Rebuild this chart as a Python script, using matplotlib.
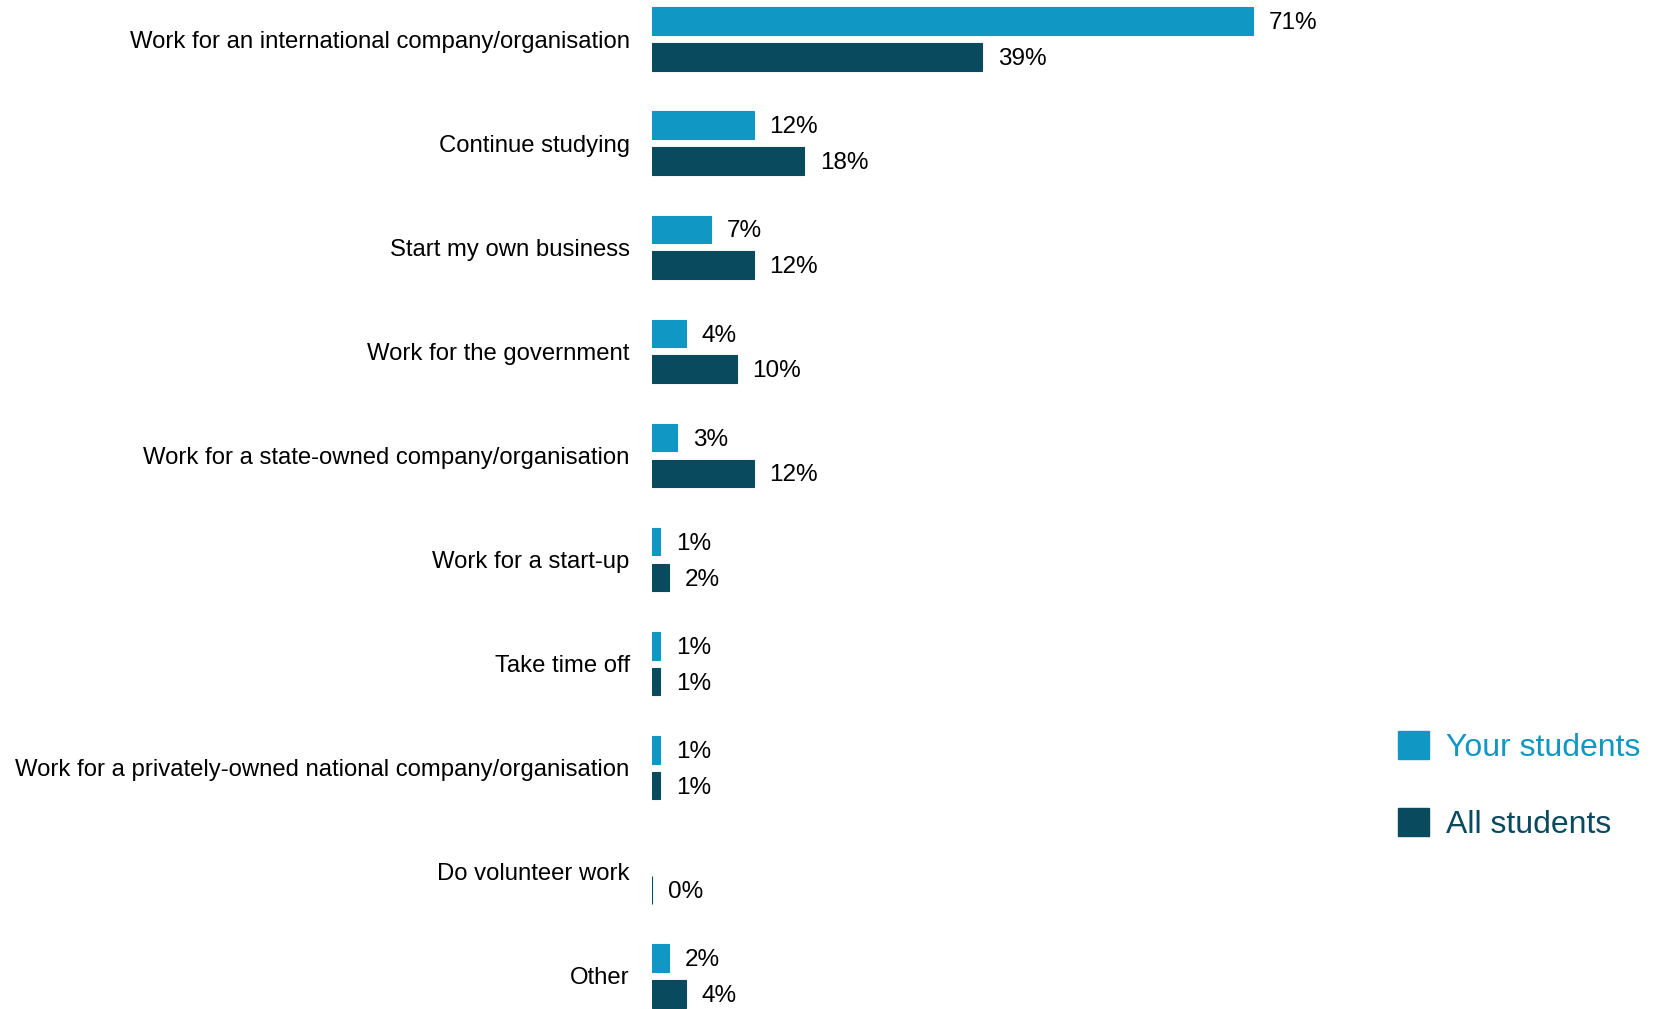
import numpy as np
import matplotlib
matplotlib.use('Agg')
import matplotlib.pyplot as plt
from matplotlib.patches import Patch

plt.rcParams['font.family'] = ['Liberation Sans', 'DejaVu Sans']

# Data
categories = [
    'Work for an international company/organisation',
    'Continue studying',
    'Start my own business',
    'Work for the government',
    'Work for a state-owned company/organisation',
    'Work for a start-up',
    'Take time off',
    'Work for a privately-owned national company/organisation',
    'Do volunteer work',
    'Other',
]
your_students = [71, 12, 7, 4, 3, 1, 1, 1, np.nan, 2]
all_students = [39, 18, 12, 10, 12, 2, 1, 1, 0, 4]
series_names = ['Your students', 'All students']
colors = ['#1097C4', '#0A4A5E']

fig = plt.figure(figsize=(16.53, 10.09), dpi=100)
ax = fig.add_axes([0.3944, 0.0, 0.40, 1.0])

y = np.arange(len(categories))
h = 0.265
off = 0.172

for vals, pos, c in [(your_students, y - off, colors[0]), (all_students, y + off, colors[1])]:
    vals = np.array(vals, dtype=float)
    keep = ~np.isnan(vals)
    ax.barh(pos[keep], vals[keep], height=h, color=c, edgecolor=c, linewidth=0.8)
    # value labels to the right of each bar
    for v, p in zip(vals[keep], pos[keep]):
        ax.annotate(f'{v:.0f}%', (v, p), xytext=(11.5, -1.5), textcoords='offset points',
                    ha='left', va='center', fontsize=17.5)

ax.set_yticks(y)
ax.set_yticklabels(categories, fontsize=17.2)
ax.tick_params(axis='y', length=0, pad=16)
ax.set_xticks([])
ax.set_xlim(0, 78.1)
ax.set_ylim(9.317, -0.375)
for s in ax.spines.values():
    s.set_visible(False)

handles = [Patch(facecolor=c, edgecolor=c) for c in colors]
leg = fig.legend(handles, series_names, loc='center left', bbox_to_anchor=(0.846, 0.2215),
                 frameon=False, fontsize=23, handlelength=0.95, handleheight=0.95,
                 handletextpad=0.55, labelspacing=1.42, borderpad=0, borderaxespad=0)
for t, c in zip(leg.get_texts(), colors):
    t.set_color(c)

plt.savefig('out.png', dpi=100)
